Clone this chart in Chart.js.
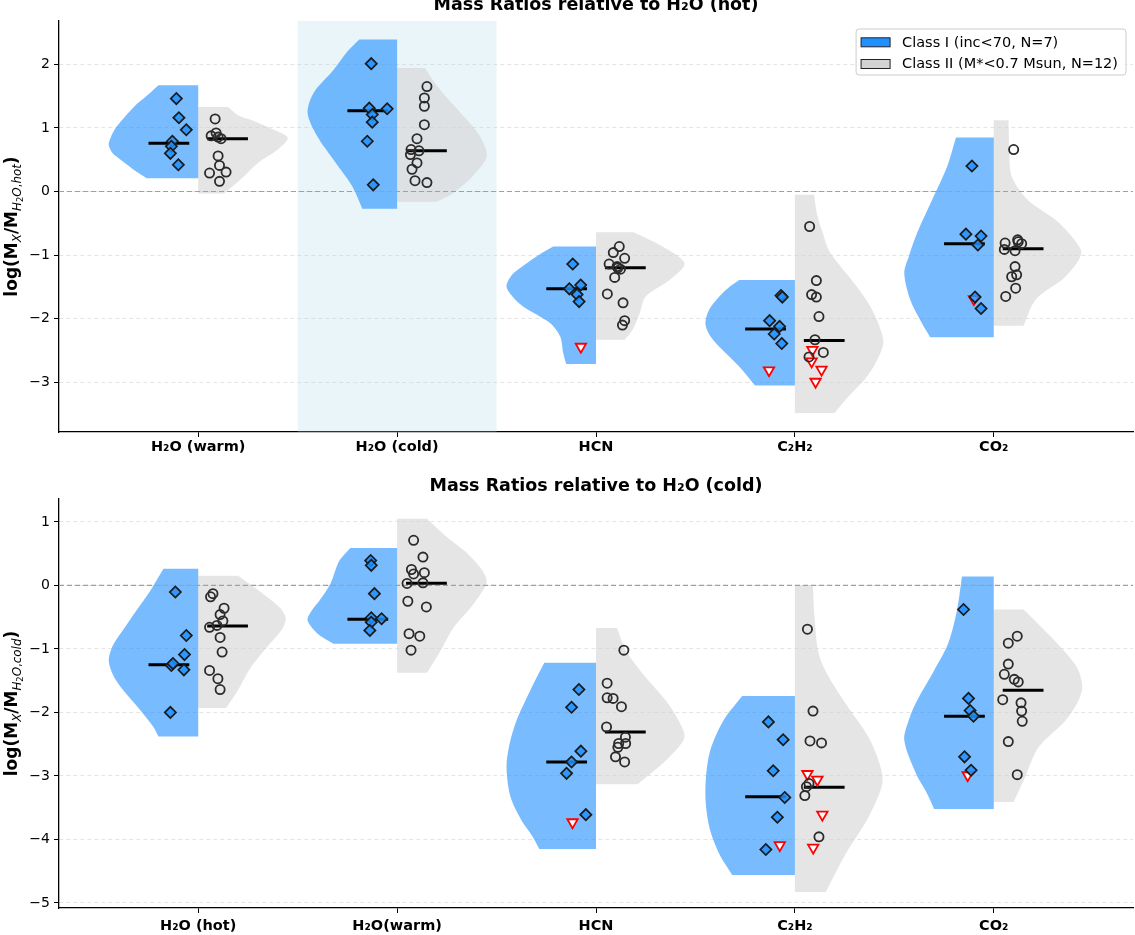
<!DOCTYPE html>
<html lang="en">
<head>
<meta charset="UTF-8">
<title>Mass Ratios relative to H2O</title>
<style>
  body { margin: 0; background: #fff; }
  #wrap { position: relative; width: 1135px; height: 935px; overflow: hidden; }
  canvas { position: absolute; left: 0; }
  #topChart { top: -5px; }
  #bottomChart { top: 468px; }
</style>
</head>
<body>
<div id="wrap">
  <canvas id="topChart" width="1135" height="470"></canvas>
  <canvas id="bottomChart" width="1135" height="467"></canvas>
</div>
<script src="https://cdn.jsdelivr.net/npm/chart.js@4"></script>
<script>
// ---- categories / labels ----
const topCategories = ['H\u2082O (warm)', 'H\u2082O (cold)', 'HCN', 'C\u2082H\u2082', 'CO\u2082'];
const bottomCategories = ['H\u2082O (hot)', 'H\u2082O(warm)', 'HCN', 'C\u2082H\u2082', 'CO\u2082'];
const seriesNames = ['Class I (inc<70, N=7)', 'Class II (M*<0.7 Msun, N=12)'];
const topYTicks = [-3, -2, -1, 0, 1, 2];
const bottomYTicks = [-5, -4, -3, -2, -1, 0, 1];

// ---- top panel (relative to H2O hot) ----
const topClassI = [
  [1.46, 1.16, 0.97, 0.79, 0.71, 0.60, 0.42],
  [2.01, 1.31, 1.30, 1.21, 1.09, 0.79, 0.105],
  [-1.14, -1.47, -1.53, -1.62, -1.73],
  [-1.635, -1.66, -2.03, -2.12, -2.24, -2.39],
  [0.40, -0.67, -0.70, -0.84, -1.66, -1.84]
];
const topClassIJitter = [
  [-0.11, -0.097, -0.06, -0.13, -0.135, -0.14, -0.10],
  [-0.13, -0.14, -0.05, -0.125, -0.125, -0.15, -0.12],
  [-0.117, -0.077, -0.134, -0.095, -0.085],
  [-0.07, -0.063, -0.127, -0.077, -0.104, -0.066],
  [-0.11, -0.14, -0.064, -0.08, -0.094, -0.064]
];
const topClassILimits = [[], [], [-2.44], [-2.81], [-1.69]];
const topClassILimitsJitter = [[], [], [-0.076], [-0.13], [-0.10]];
const topClassII = [
  [1.14, 0.875, 0.92, 0.855, 0.83, 0.56, 0.41, 0.29, 0.305, 0.16],
  [1.65, 1.47, 1.34, 1.05, 0.83, 0.66, 0.64, 0.58, 0.45, 0.35, 0.17, 0.14],
  [-0.865, -0.96, -1.05, -1.14, -1.18, -1.22, -1.35, -1.61, -1.75, -2.03, -2.10, -1.20],
  [-0.55, -1.40, -1.62, -1.66, -1.965, -2.33, -2.53, -2.60],
  [0.66, -0.81, -0.76, -0.82, -0.91, -0.93, -1.18, -1.31, -1.34, -1.52, -1.65, -0.79]
];
const topClassIIJitter = [
  [0.085, 0.065, 0.09, 0.10, 0.115, 0.10, 0.107, 0.057, 0.14, 0.107],
  [0.15, 0.137, 0.137, 0.137, 0.10, 0.07, 0.11, 0.067, 0.10, 0.075, 0.09, 0.15],
  [0.117, 0.087, 0.144, 0.066, 0.106, 0.123, 0.094, 0.057, 0.136, 0.144, 0.133, 0.11],
  [0.074, 0.108, 0.084, 0.108, 0.121, 0.101, 0.143, 0.071],
  [0.10, 0.057, 0.12, 0.14, 0.053, 0.107, 0.107, 0.115, 0.09, 0.11, 0.06, 0.123]
];
const topClassIILimits = [[], [], [], [-2.49, -2.67, -2.80, -2.99], []];
const topClassIILimitsJitter = [[], [], [], [0.088, 0.084, 0.134, 0.104], []];
const topMedianI = [0.76, 1.27, -1.53, -2.16, -0.82];
const topMedianII = [0.83, 0.64, -1.20, -2.34, -0.90];
// violin outlines: [log value, half width]
const topViolinI = [
  [[1.67, 0.20], [1.5, 0.26], [1.34, 0.32], [1.02, 0.41], [0.85, 0.44], [0.73, 0.45], [0.6, 0.43], [0.5, 0.39], [0.31, 0.31], [0.21, 0.26]],
  [[2.39, 0.19], [2.2, 0.25], [1.91, 0.32], [1.55, 0.42], [1.23, 0.45], [0.86, 0.40], [0.5, 0.32], [0.08, 0.225], [-0.27, 0.175]],
  [[-0.865, 0.215], [-1.0, 0.29], [-1.13, 0.35], [-1.3, 0.42], [-1.49, 0.45], [-1.65, 0.42], [-1.81, 0.365], [-2.07, 0.23], [-2.28, 0.18], [-2.54, 0.165], [-2.71, 0.15]],
  [[-1.39, 0.28], [-1.5, 0.33], [-1.65, 0.38], [-1.85, 0.43], [-2.07, 0.45], [-2.25, 0.43], [-2.44, 0.38], [-2.75, 0.28], [-3.05, 0.2]],
  [[0.85, 0.19], [0.39, 0.235], [-0.13, 0.31], [-0.65, 0.385], [-1.0, 0.425], [-1.28, 0.45], [-1.70, 0.42], [-2.02, 0.37], [-2.29, 0.32]]
];
const topViolinII = [
  [[1.33, 0.15], [1.2, 0.2], [1.13, 0.26], [0.97, 0.38], [0.84, 0.45], [0.66, 0.40], [0.45, 0.30], [0.18, 0.21], [-0.03, 0.13]],
  [[1.94, 0.14], [1.75, 0.18], [1.55, 0.23], [1.13, 0.35], [0.85, 0.42], [0.55, 0.45], [0.24, 0.38], [-0.03, 0.28], [-0.16, 0.2]],
  [[-0.64, 0.19], [-0.865, 0.335], [-1.13, 0.445], [-1.39, 0.37], [-1.65, 0.25], [-1.91, 0.22], [-2.17, 0.185], [-2.33, 0.145]],
  [[-0.05, 0.097], [-0.34, 0.11], [-0.65, 0.14], [-0.92, 0.17], [-1.18, 0.23], [-1.49, 0.31], [-1.81, 0.38], [-2.12, 0.425], [-2.38, 0.445], [-2.70, 0.405], [-2.96, 0.35], [-3.22, 0.27], [-3.48, 0.2]],
  [[1.12, 0.074], [0.66, 0.078], [0.24, 0.09], [-0.13, 0.17], [-0.445, 0.31], [-0.7, 0.39], [-0.97, 0.44], [-1.34, 0.36], [-1.70, 0.21], [-2.11, 0.15]]
];

// ---- bottom panel (relative to H2O cold) ----
const bottomClassI = [
  [-0.105, -0.79, -1.09, -1.26, -1.33, -2.00, -1.23],
  [0.39, 0.315, -0.13, -0.51, -0.525, -0.58, -0.71],
  [-1.64, -1.92, -2.61, -2.78, -2.96, -3.61],
  [-2.15, -2.43, -2.92, -3.34, -3.65, -4.16],
  [-0.38, -1.78, -1.97, -2.06, -2.70, -2.91]
];
const bottomClassIJitter = [
  [-0.115, -0.06, -0.069, -0.135, -0.072, -0.14, -0.127],
  [-0.133, -0.13, -0.114, -0.13, -0.078, -0.13, -0.137],
  [-0.086, -0.123, -0.076, -0.123, -0.148, -0.051],
  [-0.133, -0.059, -0.109, -0.051, -0.088, -0.146],
  [-0.152, -0.127, -0.119, -0.102, -0.147, -0.114]
];
const bottomClassILimits = [[], [], [-3.73], [-4.09], [-2.99]];
const bottomClassILimitsJitter = [[], [], [-0.118], [-0.076], [-0.131]];
const bottomClassII = [
  [-0.13, -0.18, -0.36, -0.46, -0.56, -0.63, -0.66, -0.82, -1.05, -1.34, -1.47, -1.64],
  [0.71, 0.445, 0.25, 0.18, 0.20, 0.03, 0.04, -0.25, -0.34, -0.76, -0.80, -1.02],
  [-1.02, -1.54, -1.77, -1.78, -1.91, -2.23, -2.39, -2.49, -2.49, -2.55, -2.70, -2.78],
  [-0.69, -1.98, -2.45, -2.48, -3.17, -3.31, -3.96, -3.12],
  [-0.80, -0.91, -1.24, -1.40, -1.48, -1.52, -1.80, -1.85, -1.98, -2.14, -2.46, -2.98]
];
const bottomClassIIJitter = [
  [0.074, 0.062, 0.13, 0.11, 0.124, 0.094, 0.057, 0.11, 0.12, 0.057, 0.099, 0.11],
  [0.083, 0.13, 0.072, 0.083, 0.137, 0.05, 0.13, 0.054, 0.147, 0.06, 0.114, 0.07],
  [0.14, 0.056, 0.056, 0.086, 0.128, 0.053, 0.148, 0.114, 0.149, 0.11, 0.098, 0.144],
  [0.063, 0.091, 0.076, 0.134, 0.058, 0.05, 0.121, 0.071],
  [0.118, 0.073, 0.073, 0.053, 0.103, 0.123, 0.045, 0.137, 0.14, 0.143, 0.073, 0.118]
];
const bottomClassIILimits = [[], [], [], [-2.97, -3.06, -3.61, -4.13], []];
const bottomClassIILimitsJitter = [[], [], [], [0.063, 0.113, 0.138, 0.092], []];
const bottomMedianI = [-1.25, -0.535, -2.78, -3.33, -2.06];
const bottomMedianII = [-0.64, 0.035, -2.31, -3.18, -1.65];
const bottomViolinI = [
  [[0.26, 0.175], [-0.08, 0.24], [-0.39, 0.31], [-0.71, 0.38], [-0.95, 0.43], [-1.18, 0.45], [-1.4, 0.43], [-1.60, 0.39], [-1.97, 0.29], [-2.23, 0.225], [-2.38, 0.2]],
  [[0.59, 0.235], [0.39, 0.29], [0.03, 0.335], [-0.24, 0.39], [-0.4, 0.43], [-0.55, 0.45], [-0.76, 0.40], [-0.92, 0.32]],
  [[-1.22, 0.26], [-1.65, 0.33], [-2.13, 0.40], [-2.5, 0.435], [-2.86, 0.45], [-3.33, 0.43], [-3.70, 0.375], [-3.95, 0.32], [-4.15, 0.285]],
  [[-1.74, 0.265], [-2.13, 0.36], [-2.65, 0.43], [-3.28, 0.45], [-3.81, 0.43], [-4.23, 0.38], [-4.56, 0.315]],
  [[0.14, 0.16], [-0.39, 0.185], [-0.92, 0.23], [-1.34, 0.30], [-1.81, 0.385], [-2.1, 0.425], [-2.44, 0.45], [-2.97, 0.39], [-3.25, 0.34], [-3.52, 0.30]]
];
const bottomViolinII = [
  [[0.15, 0.2], [-0.13, 0.325], [-0.35, 0.41], [-0.52, 0.44], [-0.7, 0.42], [-0.92, 0.36], [-1.29, 0.265], [-1.65, 0.2], [-1.93, 0.14]],
  [[1.05, 0.15], [0.76, 0.25], [0.45, 0.37], [0.08, 0.45], [-0.29, 0.385], [-0.66, 0.285], [-1.02, 0.22], [-1.375, 0.15]],
  [[-0.67, 0.105], [-1.02, 0.15], [-1.39, 0.235], [-1.81, 0.35], [-2.1, 0.41], [-2.39, 0.445], [-2.70, 0.37], [-2.9, 0.3], [-3.13, 0.21]],
  [[0.0, 0.09], [-0.55, 0.10], [-1.08, 0.12], [-1.44, 0.17], [-1.86, 0.255], [-2.39, 0.37], [-2.8, 0.425], [-3.12, 0.44], [-3.65, 0.37], [-4.23, 0.255], [-4.83, 0.155]],
  [[-0.38, 0.15], [-0.66, 0.24], [-1.02, 0.35], [-1.3, 0.42], [-1.60, 0.445], [-1.85, 0.42], [-2.13, 0.36], [-2.55, 0.225], [-3.02, 0.157], [-3.41, 0.10]]
];

// ---- styling ----
Chart.defaults.font.family = '"DejaVu Sans", sans-serif';
const X_MIN = -0.7, X_MAX = 4.7;
const BLUE = 'rgba(30,144,255,0.6)';
const GRAY = 'rgba(211,211,211,0.6)';
const BAND = 'rgba(173,216,230,0.25)';

function halfViolin(center, side, outline, color) {
  const pts = [{x: center, y: outline[0][0]}];
  outline.forEach(([y, w], i) => {
    pts.push({x: center + side * w, y: y});
    // doubled end points keep the cut ends flat
    if (i === 0 || i === outline.length - 1) pts.push({x: center + side * w, y: y});
  });
  pts.push({x: center, y: outline[outline.length - 1][0]});
  return {data: pts, showLine: true, fill: 'shape', backgroundColor: color,
    borderWidth: 0, pointRadius: 0, pointHoverRadius: 0, tension: 0.3, order: 3};
}

function medianLine(center, side, value) {
  return {data: [{x: center + side * 0.25, y: value}, {x: center + side * 0.045, y: value}],
    showLine: true, borderColor: '#000', borderWidth: 3, pointRadius: 0, order: 1};
}

function scatterSet(values, jitter, style) {
  const pts = [];
  values.forEach((list, i) => list.forEach((v, k) => pts.push({x: i + jitter[i][k], y: v})));
  return Object.assign({data: pts, order: 0}, style);
}

const diamondStyle = {pointStyle: 'rectRot', pointRadius: 5.6, pointBackgroundColor: 'rgba(30,144,255,0.85)',
  pointBorderColor: '#1a1a1a', pointBorderWidth: 1.7};
const circleStyle = {pointStyle: 'circle', pointRadius: 4.6, pointBackgroundColor: 'rgba(0,0,0,0)',
  pointBorderColor: '#2b2b2b', pointBorderWidth: 1.8};
const limitStyle = {pointStyle: 'triangle', pointRotation: 180, pointRadius: 6, pointBackgroundColor: '#fff',
  pointBorderColor: '#ff0000', pointBorderWidth: 1.8};

function yLabelPlugin(parts) {
  return {
    id: 'yLabel',
    afterDraw(chart) {
      const {ctx, chartArea} = chart;
      const size = 17;
      const fontOf = p => (p.italic ? 'italic ' : '') + (p.bold ? 'bold ' : '') +
        (size * Math.pow(0.7, p.level)) + 'px "DejaVu Sans"';
      ctx.save();
      const widths = parts.map(p => { ctx.font = fontOf(p); return ctx.measureText(p.t).width; });
      const total = widths.reduce((a, b) => a + b, 0);
      ctx.translate(17, (chartArea.top + chartArea.bottom) / 2);
      ctx.rotate(-Math.PI / 2);
      ctx.fillStyle = '#000';
      ctx.textBaseline = 'alphabetic';
      let cx = -total / 2;
      parts.forEach((p, i) => {
        ctx.font = fontOf(p);
        const dy = p.level === 1 ? 0.22 * size : p.level === 2 ? 0.36 * size : 0;
        ctx.fillText(p.t, cx, dy);
        cx += widths[i];
      });
      ctx.restore();
    }
  };
}

function labelParts(tail) {
  return [
    {t: 'log(M', bold: true, level: 0},
    {t: 'X', italic: true, level: 1},
    {t: '/M', bold: true, level: 0},
    {t: 'H', italic: true, level: 1},
    {t: '2', level: 2},
    {t: 'O', italic: true, level: 1},
    {t: ',', level: 1},
    {t: tail, italic: true, level: 1},
    {t: ')', bold: true, level: 0}
  ];
}

const boxLegendPlugin = {
  id: 'boxLegend',
  afterDraw(chart) {
    const {ctx, chartArea} = chart;
    const colors = ['#1E90FF', '#D3D3D3'];
    ctx.save();
    ctx.font = '14.5px "DejaVu Sans"';
    const textW = Math.max(...seriesNames.map(t => ctx.measureText(t).width));
    const w = 46 + textW + 8, h = 46;
    const right = chartArea.right - 7, top = chartArea.top + 8, left = right - w;
    const r = 3;
    ctx.beginPath();
    ctx.moveTo(left + r, top);
    ctx.arcTo(right, top, right, top + h, r);
    ctx.arcTo(right, top + h, left, top + h, r);
    ctx.arcTo(left, top + h, left, top, r);
    ctx.arcTo(left, top, right, top, r);
    ctx.closePath();
    ctx.fillStyle = 'rgba(255,255,255,0.85)';
    ctx.fill();
    ctx.strokeStyle = '#cccccc';
    ctx.lineWidth = 1;
    ctx.stroke();
    seriesNames.forEach((t, i) => {
      const cy = top + 13.3 + i * 21.7;
      ctx.fillStyle = colors[i];
      ctx.fillRect(left + 5, cy - 4.5, 29, 9);
      ctx.strokeStyle = '#222';
      ctx.strokeRect(left + 5, cy - 4.5, 29, 9);
      ctx.fillStyle = '#000';
      ctx.textBaseline = 'middle';
      ctx.fillText(t, left + 46, cy + 0.5);
    });
    ctx.restore();
  }
};

function buildPanel(canvasId, p) {
  const cats = p.categories;
  const datasets = [];
  if (p.highlight !== null) {
    const h = p.highlight;
    datasets.push({data: [{x: h - 0.5, y: p.yMin}, {x: h - 0.5, y: p.yMax}, {x: h + 0.5, y: p.yMax}, {x: h + 0.5, y: p.yMin}],
      showLine: true, fill: 'shape', backgroundColor: BAND, borderWidth: 0, pointRadius: 0, order: 4});
  }
  cats.forEach((c, i) => {
    datasets.push(halfViolin(i, -1, p.violinI[i], BLUE));
    datasets.push(halfViolin(i, 1, p.violinII[i], GRAY));
    datasets.push(medianLine(i, -1, p.medianI[i]));
    datasets.push(medianLine(i, 1, p.medianII[i]));
  });
  datasets.push({data: [{x: X_MIN, y: 0}, {x: X_MAX, y: 0}], showLine: true, borderColor: '#a0a0a0',
    borderWidth: 1.2, borderDash: [5, 3], pointRadius: 0, order: 2});
  datasets.push(scatterSet(p.classI, p.classIJitter, diamondStyle));
  datasets.push(scatterSet(p.classII, p.classIIJitter, circleStyle));
  datasets.push(scatterSet(p.limitsI, p.limitsIJitter, limitStyle));
  datasets.push(scatterSet(p.limitsII, p.limitsIIJitter, limitStyle));

  const plugins = [yLabelPlugin(p.yLabel)];
  if (p.legend) plugins.push(boxLegendPlugin);

  return new Chart(document.getElementById(canvasId), {
    type: 'scatter',
    data: {datasets},
    options: {
      responsive: false,
      animation: false,
      events: [],
      layout: {autoPadding: false, padding: {left: 0, right: 2, top: 0, bottom: 0}},
      plugins: {
        legend: {display: false},
        tooltip: {enabled: false},
        title: {display: true, fullSize: false, text: p.title, color: '#000',
          font: {size: 17.5, weight: 'bold'}, padding: p.titlePadding}
      },
      scales: {
        x: {
          type: 'linear', min: X_MIN, max: X_MAX,
          afterBuildTicks: s => { s.ticks = cats.map((_, i) => ({value: i})); },
          afterFit: s => { s.height = p.xAxisHeight; s.paddingLeft = 0; s.paddingRight = 0; },
          ticks: {callback: v => cats[v], color: '#000', font: {size: 14.5, weight: 'bold'},
            padding: p.xTickPad, maxRotation: 0, autoSkip: false},
          grid: {drawOnChartArea: false, tickColor: '#000', tickLength: 5, tickWidth: 1},
          border: {color: '#000', width: 1.3}
        },
        y: {
          min: p.yMin, max: p.yMax,
          afterBuildTicks: s => { s.ticks = p.yTicks.map(v => ({value: v})); },
          afterFit: s => { s.width = 59; s.paddingTop = 0; s.paddingBottom = 0; },
          ticks: {callback: v => (v < 0 ? '\u2212' + Math.abs(v) : String(v)), color: '#000',
            font: {size: 14}, padding: 4},
          grid: {color: '#e4e4e4', lineWidth: 1, tickColor: '#000', tickLength: 5},
          border: {color: '#000', width: 1.3, dash: [4, 3]}
        }
      }
    },
    plugins: plugins
  });
}

buildPanel('topChart', {
  title: 'Mass Ratios relative to H\u2082O (hot)',
  titlePadding: {top: 0, bottom: 5.0},
  categories: topCategories, yTicks: topYTicks, yMin: -3.78, yMax: 2.68,
  xAxisHeight: 33, xTickPad: 2, highlight: 1, legend: true,
  yLabel: labelParts('hot'),
  violinI: topViolinI, violinII: topViolinII,
  medianI: topMedianI, medianII: topMedianII,
  classI: topClassI, classIJitter: topClassIJitter,
  classII: topClassII, classIIJitter: topClassIIJitter,
  limitsI: topClassILimits, limitsIJitter: topClassILimitsJitter,
  limitsII: topClassIILimits, limitsIIJitter: topClassIILimitsJitter
});

buildPanel('bottomChart', {
  title: 'Mass Ratios relative to H\u2082O (cold)',
  titlePadding: {top: 7.5, bottom: 2.5},
  categories: bottomCategories, yTicks: bottomYTicks, yMin: -5.08, yMax: 1.36,
  xAxisHeight: 27, xTickPad: 5, highlight: null, legend: false,
  yLabel: labelParts('cold'),
  violinI: bottomViolinI, violinII: bottomViolinII,
  medianI: bottomMedianI, medianII: bottomMedianII,
  classI: bottomClassI, classIJitter: bottomClassIJitter,
  classII: bottomClassII, classIIJitter: bottomClassIIJitter,
  limitsI: bottomClassILimits, limitsIJitter: bottomClassILimitsJitter,
  limitsII: bottomClassIILimits, limitsIIJitter: bottomClassIILimitsJitter
});
</script>
</body>
</html>
